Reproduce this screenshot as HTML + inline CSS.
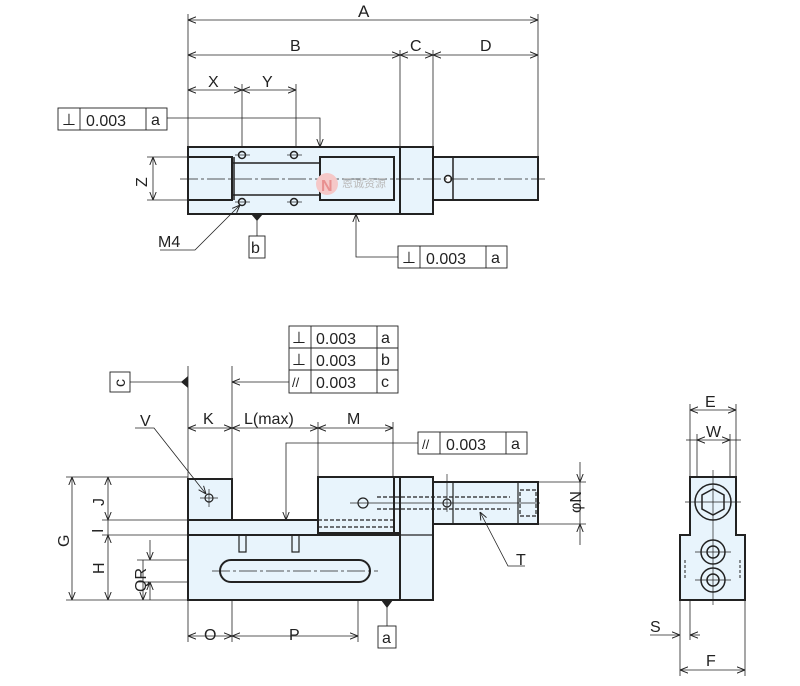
<!DOCTYPE html>
<html><head><meta charset="utf-8"><style>
html,body{margin:0;padding:0;background:#fff}
svg{display:block}
text{font-family:"Liberation Sans",sans-serif;fill:#222}
</style></head><body>
<svg width="800" height="686" viewBox="0 0 800 686" xmlns="http://www.w3.org/2000/svg">
<defs>
<marker id="a" viewBox="0 0 10 10" refX="10" refY="5" markerWidth="8" markerHeight="8" orient="auto-start-reverse" markerUnits="userSpaceOnUse"><path d="M0,1 L10,5 L0,9" fill="none" stroke="#222" stroke-width="1.2"/></marker>
</defs>
<g stroke="#222" stroke-width="0.8" fill="none">
<!-- extension lines top -->
<line x1="188" y1="14" x2="188" y2="147"/><line x1="538" y1="14" x2="538" y2="157"/>
<line x1="400" y1="50" x2="400" y2="147"/><line x1="433" y1="50" x2="433" y2="147"/>
<line x1="242" y1="84" x2="242" y2="210"/><line x1="296" y1="84" x2="296" y2="210"/>
<line x1="147" y1="157" x2="188" y2="157"/><line x1="147" y1="200" x2="188" y2="200"/>
<!-- dims top -->
<line x1="188" y1="20" x2="538" y2="20" marker-start="url(#a)" marker-end="url(#a)"/>
<line x1="188" y1="55" x2="400" y2="55" marker-start="url(#a)" marker-end="url(#a)"/>
<line x1="400" y1="55" x2="433" y2="55" marker-start="url(#a)" marker-end="url(#a)"/>
<line x1="433" y1="55" x2="538" y2="55" marker-start="url(#a)" marker-end="url(#a)"/>
<line x1="188" y1="90" x2="242" y2="90" marker-start="url(#a)" marker-end="url(#a)"/>
<line x1="242" y1="90" x2="296" y2="90" marker-start="url(#a)" marker-end="url(#a)"/>
<line x1="153" y1="157" x2="153" y2="200" marker-start="url(#a)" marker-end="url(#a)"/>
</g>
<!-- top view body -->
<g stroke="#222" stroke-width="2" fill="#e8f4fc">
<rect x="188" y="147" width="212" height="67"/>
<rect x="400" y="147" width="33" height="67"/>
<rect x="433" y="157" width="105" height="43"/>
<rect x="188" y="157" width="44" height="43"/>
<rect x="320" y="157" width="74" height="43"/>
</g>
<g stroke="#222" stroke-width="1.5" fill="none">
<line x1="232" y1="163" x2="320" y2="163"/><line x1="232" y1="195" x2="320" y2="195"/>
<line x1="234" y1="157" x2="234" y2="200"/>
<line x1="453" y1="157" x2="453" y2="200"/>
<circle cx="448" cy="179" r="3.5" fill="#fff"/>
<circle cx="242" cy="155" r="3.5"/><circle cx="294" cy="155" r="3.5"/>
<circle cx="242" cy="202" r="3.5"/><circle cx="294" cy="202" r="3.5"/>
</g>
<g stroke="#222" stroke-width="0.7">
<line x1="180" y1="179" x2="545" y2="179" stroke-dasharray="18,3,3,3"/>
<line x1="235" y1="155" x2="250" y2="155"/><line x1="287" y1="155" x2="302" y2="155"/>
<line x1="235" y1="202" x2="250" y2="202"/><line x1="287" y1="202" x2="302" y2="202"/>
</g>
<!-- top tolerance boxes -->
<g stroke="#222" stroke-width="0.9" fill="#fff">
<rect x="58" y="108" width="109" height="22"/><line x1="80" y1="108" x2="80" y2="130"/><line x1="146" y1="108" x2="146" y2="130"/>
<rect x="398" y="246" width="109" height="22"/><line x1="420" y1="246" x2="420" y2="268"/><line x1="486" y1="246" x2="486" y2="268"/>
<rect x="249" y="236" width="16" height="22"/>
</g>
<g stroke="#222" stroke-width="0.8" fill="none">
<polyline points="167,118 320,118 320,147" marker-end="url(#a)"/>
<polyline points="398,257 356,257 356,214" marker-end="url(#a)"/>
<line x1="257" y1="220" x2="257" y2="236"/>
<polyline points="160,250 195,250 240,205" marker-end="url(#a)"/>
</g>
<polygon points="251,214 263,214 257,221" fill="#222"/>
<g font-size="16">
<text x="358" y="17" font-size="17">A</text><text x="290" y="51">B</text><text x="410" y="51">C</text><text x="480" y="51">D</text>
<text x="208" y="87">X</text><text x="262" y="87">Y</text>
<text x="134" y="186" transform="rotate(-90 141 180)">Z</text>
<text x="62" y="125">⊥</text><text x="86" y="126">0.003</text><text x="151" y="125">a</text>
<text x="402" y="263">⊥</text><text x="426" y="264">0.003</text><text x="491" y="263">a</text>
<text x="251" y="253">b</text>
<text x="158" y="247">M4</text>
</g>
<!-- watermark -->
<circle cx="327" cy="184" r="11" fill="#f5c8c8"/>
<text x="321" y="191" font-size="16" fill="#e89090" style="fill:#e89090" font-weight="bold">N</text>
<text x="342" y="187" font-size="11" style="fill:#bbb" font-family="Noto Sans CJK SC,sans-serif">恩诚资源</text>

<!-- front view extension lines -->
<g stroke="#222" stroke-width="0.8" fill="none">
<line x1="188" y1="366" x2="188" y2="479"/><line x1="232" y1="366" x2="232" y2="520"/>
<line x1="318" y1="422" x2="318" y2="477"/><line x1="393" y1="422" x2="393" y2="477"/>
<line x1="66" y1="477" x2="188" y2="477"/><line x1="66" y1="600" x2="188" y2="600"/>
<line x1="102" y1="520" x2="188" y2="520"/><line x1="102" y1="535" x2="188" y2="535"/>
<line x1="137" y1="560" x2="220" y2="560"/><line x1="137" y1="582" x2="220" y2="582"/>
<line x1="538" y1="482" x2="586" y2="482"/><line x1="538" y1="524" x2="586" y2="524"/>
<line x1="188" y1="600" x2="188" y2="642"/><line x1="232" y1="582" x2="232" y2="642"/><line x1="358" y1="582" x2="358" y2="642"/>
<line x1="188" y1="428" x2="232" y2="428" marker-start="url(#a)" marker-end="url(#a)"/>
<line x1="232" y1="428" x2="318" y2="428" marker-start="url(#a)" marker-end="url(#a)"/>
<line x1="318" y1="428" x2="393" y2="428" marker-start="url(#a)" marker-end="url(#a)"/>
<line x1="72" y1="477" x2="72" y2="600" marker-start="url(#a)" marker-end="url(#a)"/>
<line x1="108" y1="477" x2="108" y2="520" marker-start="url(#a)" marker-end="url(#a)"/>
<line x1="108" y1="520" x2="108" y2="535"/>
<line x1="108" y1="535" x2="108" y2="600" marker-start="url(#a)" marker-end="url(#a)"/>
<line x1="143" y1="560" x2="143" y2="600" marker-end="url(#a)"/>
<line x1="150" y1="540" x2="150" y2="560" marker-end="url(#a)"/>
<line x1="150" y1="600" x2="150" y2="582" marker-end="url(#a)"/>
<line x1="580" y1="462" x2="580" y2="482" marker-end="url(#a)"/>
<line x1="580" y1="545" x2="580" y2="524" marker-end="url(#a)"/>
<line x1="580" y1="482" x2="580" y2="524"/>
<line x1="188" y1="636" x2="232" y2="636" marker-start="url(#a)" marker-end="url(#a)"/>
<line x1="232" y1="636" x2="358" y2="636" marker-start="url(#a)" marker-end="url(#a)"/>
</g>
<!-- front body -->
<g stroke="#222" stroke-width="2" fill="#e8f4fc">
<rect x="188" y="479" width="44" height="41"/>
<rect x="188" y="520" width="130" height="15"/>
<rect x="188" y="535" width="212" height="65"/>
<rect x="394" y="477" width="6" height="56"/>
<rect x="318" y="477" width="76" height="56"/>
<rect x="400" y="477" width="33" height="123"/>
<rect x="433" y="482" width="105" height="42"/>
<rect x="220" y="560" width="150" height="22" rx="11"/>
</g>
<g stroke="#222" stroke-width="1.2" fill="none">
<line x1="400" y1="535" x2="433" y2="535"/>
<line x1="453" y1="482" x2="453" y2="524"/><line x1="518" y1="482" x2="518" y2="524"/>
<circle cx="209" cy="498" r="4"/><circle cx="363" cy="503" r="5"/><circle cx="447" cy="503" r="4"/>
<rect x="239" y="535" width="7" height="17"/><rect x="292" y="535" width="7" height="17"/>
</g>
<g stroke="#222" stroke-width="1.2" stroke-dasharray="4,2" fill="none">
<line x1="377" y1="497" x2="510" y2="497"/><line x1="377" y1="509" x2="510" y2="509"/>
<line x1="318" y1="520" x2="394" y2="520"/><line x1="318" y1="527" x2="394" y2="527"/>
<rect x="520" y="490" width="16" height="26"/>
</g>
<g stroke="#222" stroke-width="0.7">
<line x1="200" y1="498" x2="218" y2="498"/><line x1="209" y1="489" x2="209" y2="507"/>
<line x1="350" y1="503" x2="540" y2="503"/><line x1="447" y1="474" x2="447" y2="512"/>
<line x1="212" y1="571" x2="378" y2="571" stroke-dasharray="18,3,3,3"/>
</g>
<!-- front tolerance -->
<g stroke="#222" stroke-width="0.9" fill="#fff">
<rect x="289" y="326" width="109" height="67"/>
<line x1="289" y1="348" x2="398" y2="348"/><line x1="289" y1="370" x2="398" y2="370"/>
<line x1="311" y1="326" x2="311" y2="393"/><line x1="377" y1="326" x2="377" y2="393"/>
<rect x="110" y="372" width="20" height="20"/>
<rect x="418" y="432" width="109" height="22"/><line x1="440" y1="432" x2="440" y2="454"/><line x1="506" y1="432" x2="506" y2="454"/>
<rect x="378" y="626" width="18" height="22"/>
</g>
<g stroke="#222" stroke-width="0.8" fill="none">
<line x1="130" y1="382" x2="183" y2="382"/>
<line x1="289" y1="382" x2="232" y2="382" marker-end="url(#a)"/>
<polyline points="418,443 286,443 286,520" marker-end="url(#a)"/>
<polyline points="135,428 154,428 206,494" marker-end="url(#a)"/>
<polyline points="525,566 508,566 480,512" marker-end="url(#a)"/>
<line x1="387" y1="607" x2="387" y2="626"/>
</g>
<polygon points="188,376 188,388 181,382" fill="#222"/>
<polygon points="381,600 393,600 387,608" fill="#222"/>
<g font-size="16">
<text x="292" y="343">⊥</text><text x="316" y="344">0.003</text><text x="381" y="343">a</text>
<text x="292" y="365">⊥</text><text x="316" y="366">0.003</text><text x="381" y="365">b</text>
<text x="292" y="387" font-size="13">//</text><text x="316" y="388">0.003</text><text x="381" y="387">c</text>
<text x="115" y="387" transform="rotate(-90 120 382)">c</text>
<text x="422" y="449" font-size="13">//</text><text x="446" y="450">0.003</text><text x="511" y="449">a</text>
<text x="382" y="643">a</text>
<text x="140" y="426">V</text><text x="203" y="424">K</text><text x="244" y="424">L(max)</text><text x="347" y="424">M</text>
<text x="56" y="546" transform="rotate(-90 63 540)">G</text>
<text x="91" y="505" transform="rotate(-90 98 499)">J</text>
<text x="93" y="533" transform="rotate(-90 98 528)">I</text>
<text x="91" y="573" transform="rotate(-90 98 567)">H</text>
<text x="128" y="586" transform="rotate(-90 140 580)">QR</text>
<text x="564" y="512" transform="rotate(-90 573 504)">φN</text>
<text x="516" y="565">T</text>
<text x="204" y="640">O</text><text x="289" y="640">P</text>
</g>
<!-- side view -->
<g stroke="#222" stroke-width="0.8" fill="none">
<line x1="690" y1="404" x2="690" y2="477"/><line x1="736" y1="404" x2="736" y2="477"/>
<line x1="697" y1="434" x2="697" y2="477"/><line x1="730" y1="434" x2="730" y2="477"/>
<line x1="680" y1="600" x2="680" y2="676"/><line x1="745" y1="600" x2="745" y2="676"/>
<line x1="690" y1="600" x2="690" y2="640"/>
<line x1="690" y1="410" x2="736" y2="410" marker-start="url(#a)" marker-end="url(#a)"/>
<line x1="697" y1="440" x2="730" y2="440" marker-start="url(#a)" marker-end="url(#a)"/>
<line x1="686" y1="440" x2="697" y2="440"/><line x1="730" y1="440" x2="741" y2="440"/>
<line x1="680" y1="670" x2="745" y2="670" marker-start="url(#a)" marker-end="url(#a)"/>
<line x1="650" y1="635" x2="680" y2="635" marker-end="url(#a)"/>
<line x1="700" y1="635" x2="690" y2="635" marker-end="url(#a)"/>
</g>
<path d="M690,477 H736 V535 H745 V600 H680 V535 H690 Z" fill="#e8f4fc" stroke="#222" stroke-width="2"/>
<g stroke="#222" stroke-width="1.5" fill="none">
<circle cx="713" cy="502" r="18"/>
<polygon points="713,489 724,495 724,509 713,515 702,509 702,495"/>
<circle cx="713" cy="552" r="12"/><circle cx="713" cy="552" r="6"/>
<circle cx="713" cy="580" r="12"/><circle cx="713" cy="580" r="6"/>
</g>
<g stroke="#222" stroke-width="0.7">
<line x1="713" y1="470" x2="713" y2="605"/>
<line x1="685" y1="502" x2="741" y2="502"/>
<line x1="695" y1="552" x2="731" y2="552"/><line x1="695" y1="580" x2="731" y2="580"/>
</g>
<g stroke="#222" stroke-width="1" stroke-dasharray="3,2" fill="none">
<line x1="685" y1="560" x2="685" y2="578"/><line x1="740" y1="560" x2="740" y2="578"/>
</g>
<g font-size="16">
<text x="705" y="407">E</text><text x="706" y="437">W</text><text x="650" y="632">S</text><text x="706" y="666">F</text>
</g>
</svg>
</body></html>
